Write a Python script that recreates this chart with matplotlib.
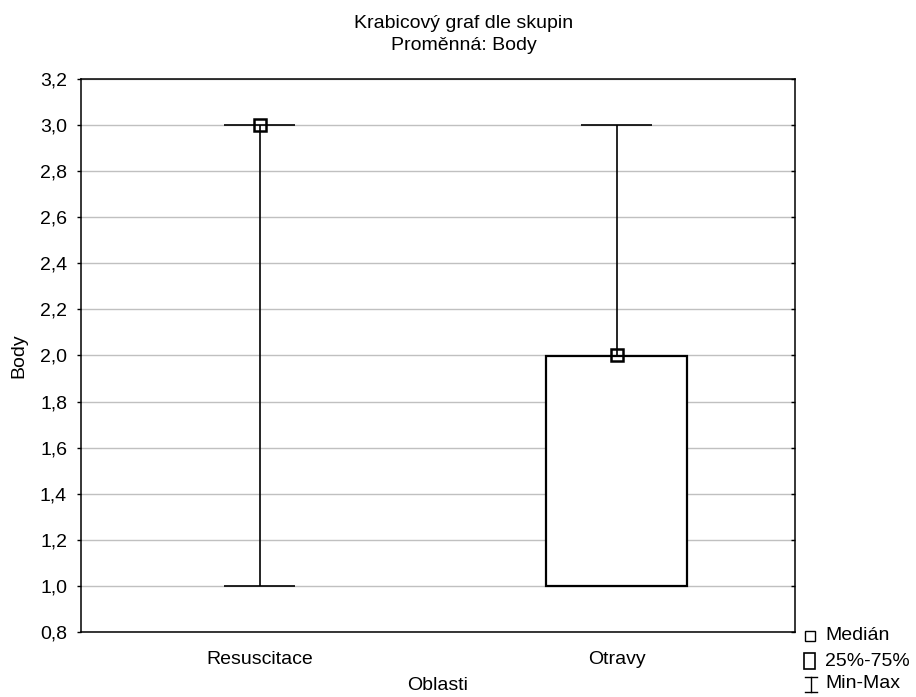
import matplotlib
matplotlib.use("Agg")
import matplotlib.pyplot as plt
from matplotlib.patches import Rectangle
from matplotlib.lines import Line2D
import numpy as np

# data
categories = ["Resuscitace", "Otravy"]
medians = [3.0, 2.0]
q1 = [3.0, 1.0]
q3 = [3.0, 2.0]
mins = [1.0, 1.0]
maxs = [3.0, 3.0]
yticks = [0.8, 1.0, 1.2, 1.4, 1.6, 1.8, 2.0, 2.2, 2.4, 2.6, 2.8, 3.0, 3.2]

plt.rcParams['font.family'] = ['Liberation Sans', 'DejaVu Sans']
plt.rcParams['font.size'] = 14

W, H = 916, 697
fig = plt.figure(figsize=(W / 100, H / 100), dpi=100)
ax = fig.add_axes([81 / W, 1 - 632 / H, 714 / W, 553 / H])

box_w = 0.395
cap_w = 0.2
lw = 1.2
pos = np.arange(len(categories))

for i, x in enumerate(pos):
    # whisker
    ax.vlines(x, mins[i], maxs[i], color='black', lw=lw, zorder=3)
    ax.hlines([mins[i], maxs[i]], x - cap_w / 2, x + cap_w / 2, color='black', lw=lw, zorder=3)
    # 25-75 box
    if q3[i] > q1[i]:
        ax.add_patch(Rectangle((x - box_w / 2, q1[i]), box_w, q3[i] - q1[i],
                               facecolor='white', edgecolor='black', lw=lw + 0.4, zorder=4))
    # median marker
    ax.plot(x, medians[i], marker='s', ms=8.5, mfc='none', mec='black', mew=1.8, zorder=5)

ax.set_xlim(-0.5, 1.5)
ax.set_ylim(0.8, 3.2)
ax.set_yticks(yticks)
ax.set_yticklabels([f"{t:.1f}".replace('.', ',') for t in yticks])
ax.set_xticks(pos)
ax.set_xticklabels(categories)
ax.tick_params(axis='y', direction='out', length=3, width=1, pad=7, right=True)
ax.tick_params(axis='x', length=0, pad=14)
ax.yaxis.grid(True, color='#c0c0c0', lw=1)
ax.set_axisbelow(True)
for s in ax.spines.values():
    s.set_linewidth(1.1)

# right-side ticks point inward
for t in ax.yaxis.get_major_ticks():
    t.tick2line.set_marker(matplotlib.lines.TICKLEFT)
    t.tick2line.set_markersize(3)

ax.set_ylabel("Body", labelpad=9)
ax.set_xlabel("Oblasti", labelpad=6)

fig.text(464 / W, 1 - 23 / H, "Krabicový graf dle skupin", ha='center', va='center')
fig.text(464 / W, 1 - 46 / H, "Proměnná: Body", ha='center', va='center')

# legend drawn by hand at the lower right
def fx(px):
    return px / W

def fy(py):
    return 1 - py / H

fig.add_artist(Line2D([fx(810)], [fy(636)], marker='s', ms=7, mfc='none', mec='black', mew=1.0))
fig.text(fx(825), fy(636), "Medián", va='center')
fig.add_artist(Rectangle((fx(804), fy(669)), 11 / W, 16 / H, transform=fig.transFigure,
                         facecolor='white', edgecolor='black', lw=1.2))
fig.text(fx(825), fy(661), "25%-75%", va='center')
fig.add_artist(Line2D([fx(811), fx(811)], [fy(677), fy(692)], color='black', lw=1.0))
fig.add_artist(Line2D([fx(805), fx(817)], [fy(677), fy(677)], color='black', lw=1.0))
fig.add_artist(Line2D([fx(805), fx(817)], [fy(692), fy(692)], color='black', lw=1.0))
fig.text(fx(825), fy(684), "Min-Max", va='center')

fig.savefig("out.png", dpi=100)
